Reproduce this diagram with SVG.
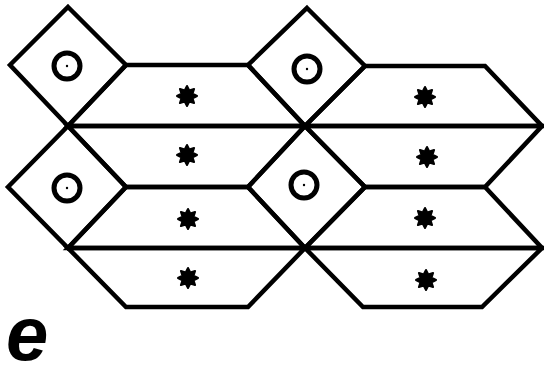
<svg xmlns="http://www.w3.org/2000/svg" xmlns:xlink="http://www.w3.org/1999/xlink" width="544" height="376" viewBox="0 0 544 376">
<style>
.cell{fill:none;stroke:#000;stroke-width:4.5;stroke-linejoin:miter}
.ring{fill:none;stroke:#000;stroke-width:5}
.dot{fill:#000}
.star{fill:#000;stroke:#000;stroke-width:2;stroke-linejoin:round}
.lbl{font-family:"Liberation Sans","DejaVu Sans",sans-serif;font-size:76px;font-weight:bold;font-style:italic;fill:#000}
</style>
<defs>
<path id="ast" class="star" d="M10,0 L5.54,2.3 L7.07,7.07 L2.3,5.54 L0,10 L-2.3,5.54 L-7.07,7.07 L-5.54,2.3 L-10,0 L-5.54,-2.3 L-7.07,-7.07 L-2.3,-5.54 L0,-10 L2.3,-5.54 L7.07,-7.07 L5.54,-2.3 Z"/>
</defs>
<g id="diamondA"><polygon class="cell" points="68,7 126,65 68,126 10,65"/><circle class="ring" cx="67" cy="66" r="13"/><circle class="dot" cx="67" cy="66" r="1.2"/></g>
<g id="diamondB"><polygon class="cell" points="68,126 126,187 68,248 8,187"/><circle class="ring" cx="67" cy="188" r="13"/><circle class="dot" cx="67" cy="188" r="1.2"/></g>
<g id="diamondC"><polygon class="cell" points="307,8 365,66 305,126 248,65"/><circle class="ring" cx="307" cy="69" r="13"/><circle class="dot" cx="307" cy="69" r="1.2"/></g>
<g id="diamondD"><polygon class="cell" points="305,126 365,187 305,248 248,187"/><circle class="ring" cx="304" cy="185" r="13"/><circle class="dot" cx="304" cy="185" r="1.2"/></g>
<g id="cellL1"><polygon class="cell" points="126,65 248,65 305,126 68,126"/><use xlink:href="#ast" x="187" y="96"/></g>
<g id="cellL2"><polygon class="cell" points="68,126 305,126 248,187 126,187"/><use xlink:href="#ast" x="187" y="155"/></g>
<g id="cellL3"><polygon class="cell" points="126,187 248,187 305,248 68,248"/><use xlink:href="#ast" x="188" y="219"/></g>
<g id="cellL4"><polygon class="cell" points="68,248 305,248 248,307 126,307"/><use xlink:href="#ast" x="188" y="278"/></g>
<g id="cellR1"><polygon class="cell" points="365,66 485,66 542,126 305,126"/><use xlink:href="#ast" x="425" y="97"/></g>
<g id="cellR2"><polygon class="cell" points="305,126 542,126 485,187 365,187"/><use xlink:href="#ast" x="427" y="157"/></g>
<g id="cellR3"><polygon class="cell" points="365,187 485,187 542,248 305,248"/><use xlink:href="#ast" x="425" y="218"/></g>
<g id="cellR4"><polygon class="cell" points="305,248 542,248 482,307 363,307"/><use xlink:href="#ast" x="426" y="280"/></g>
<g id="connectors"></g>
<text class="lbl" x="6" y="360">e</text>
</svg>
